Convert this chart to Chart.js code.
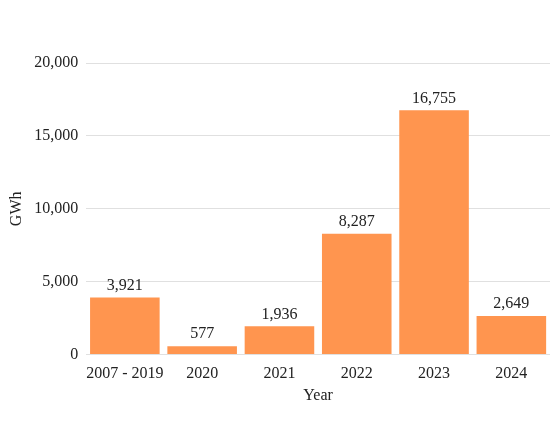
<!DOCTYPE html>
<html><head><meta charset="utf-8">
<script src="https://cdn.jsdelivr.net/npm/chart.js@4"></script>
<style>html,body{margin:0;padding:0;background:#fff}#wrap{width:559px;height:423px}</style>
</head><body><div id="wrap"><canvas id="c"></canvas></div>
<script>
const categories = ["2007 - 2019","2020","2021","2022","2023","2024"];
const values = [3921, 577, 1936, 8287, 16755, 2649];
const yTicks = [0, 5000, 10000, 15000, 20000];

const FAMILY = "'Liberation Serif', 'Times New Roman', serif";
const fmt = v => v.toLocaleString('en-US');
const labelPlugin = {
  id: 'valLabels',
  afterDatasetsDraw(chart) {
    const ctx = chart.ctx;
    const meta = chart.getDatasetMeta(0);
    ctx.save();
    ctx.font = "16px " + FAMILY;
    ctx.fillStyle = '#222';
    ctx.textAlign = 'center';
    ctx.textBaseline = 'bottom';
    meta.data.forEach((bar, i) => {
      ctx.fillText(fmt(values[i]), bar.x, bar.y - 4);
    });
    ctx.restore();
  }
};

const F = { family: FAMILY, size: 16 };

new Chart(document.getElementById('c'), {
  type: 'bar',
  data: { labels: categories, datasets: [{ data: values, backgroundColor: '#FF954F', barPercentage: 0.9, categoryPercentage: 1.0 }] },
  options: {
    responsive: true, maintainAspectRatio: false, animation: false,
    font: F,
    layout: { padding: { top: 63, right: 9, left: 7, bottom: 14 } },
    plugins: { legend: { display: false }, tooltip: { enabled: false } },
    scales: {
      x: {
        grid: { display: false }, border: { display: false },
        ticks: { padding: 2, maxRotation: 0, minRotation: 0, autoSkip: false, font: F, color: '#222' },
        title: { display: true, text: 'Year', padding: { top: 0 }, font: F, color: '#222' }
      },
      y: {
        min: 0, max: 20000,
        afterBuildTicks: ax => { ax.ticks = yTicks.map(v => ({ value: v })); },
        grid: { color: '#e0e0e0', drawTicks: false }, border: { display: false },
        ticks: { padding: 8, callback: v => fmt(v), font: F, color: '#222' },
        title: { display: true, text: 'GWh', padding: { top: 0, bottom: 0 }, font: F, color: '#222' }
      }
    }
  },
  plugins: [labelPlugin]
});
</script></body></html>
